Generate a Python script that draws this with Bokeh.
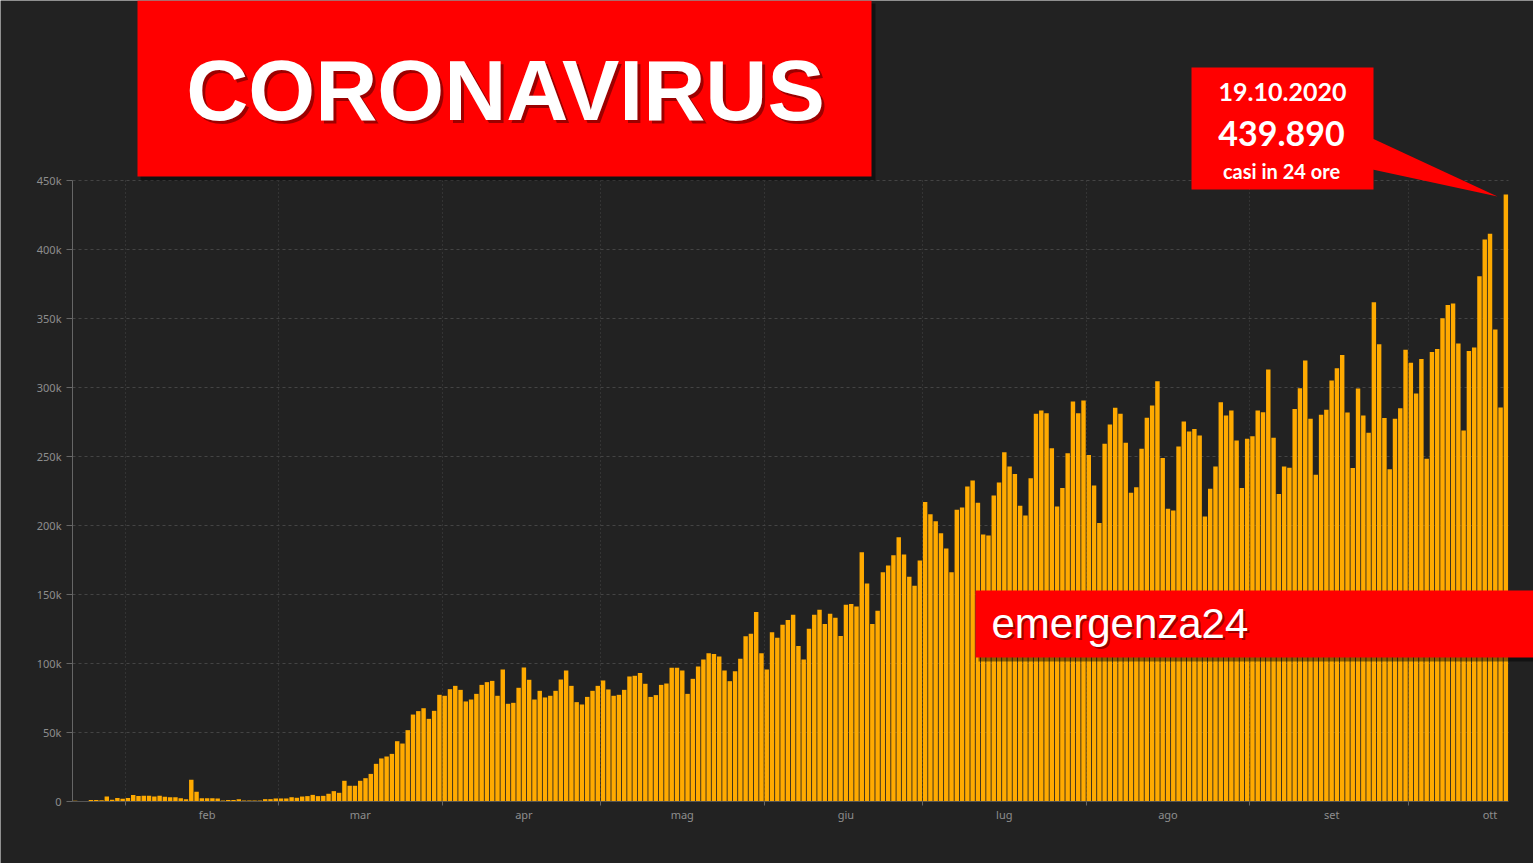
from bokeh.plotting import figure
from bokeh.models import FixedTicker, BoxAnnotation, Label, PolyAnnotation, Range1d
from bokeh.embed import file_html
from bokeh.resources import INLINE

# Daily new cases worldwide, 22 Jan 2020 -> 19 Oct 2020 (one value per day, thousands)
daily_cases_k = [
    0.5, 0.1, 0.3, 1.0, 1.1, 0.9, 3.6, 1.2, 2.6, 2.0,
    2.6, 4.8, 3.9, 4.1, 4.1, 3.6, 4.1, 3.4, 3.1, 3.1,
    2.4, 1.7, 15.7, 7.0, 2.4, 2.4, 2.4, 2.2, 0.7, 1.0,
    1.0, 1.7, 0.7, 0.7, 0.7, 0.7, 1.7, 1.7, 2.2, 2.2,
    2.2, 3.1, 2.7, 3.6, 3.9, 4.8, 3.9, 4.1, 5.6, 7.5,
    6.3, 15.0, 11.4, 11.4, 15.0, 16.9, 20.0, 27.3, 31.2, 32.6,
    34.5, 43.7, 42.0, 51.7, 63.0, 65.5, 67.6, 59.9, 65.7, 77.3,
    76.6, 81.4, 83.8, 80.9, 72.5, 73.9, 78.0, 84.5, 86.5, 87.4,
    76.6, 95.7, 70.8, 71.5, 82.4, 97.1, 88.2, 73.9, 80.2, 75.4,
    76.6, 80.2, 88.4, 94.9, 83.8, 72.0, 70.3, 75.8, 80.2, 83.8,
    87.7, 81.2, 76.6, 77.3, 80.9, 90.6, 91.1, 93.2, 85.3, 75.8,
    77.1, 84.5, 85.5, 96.9, 96.9, 94.9, 78.0, 88.9, 97.8, 102.9,
    107.5, 106.8, 105.1, 94.9, 87.2, 94.4, 103.5, 119.8, 121.5, 137.3,
    107.5, 95.7, 122.7, 118.6, 128.0, 131.6, 135.3, 112.6, 102.9, 125.1,
    135.3, 138.9, 128.7, 136.0, 133.1, 120.0, 142.5, 143.2, 141.3, 180.7,
    158.0, 128.7, 138.2, 166.2, 171.0, 178.5, 191.5, 179.0, 162.8, 156.3,
    174.6, 217.1, 208.2, 203.1, 194.4, 183.3, 166.2, 211.4, 213.0, 228.3,
    232.6, 216.4, 193.5, 192.8, 221.7, 231.2, 253.1, 242.8, 237.4, 214.3,
    207.2, 234.3, 280.9, 283.3, 281.4, 256.0, 213.8, 227.1, 252.4, 289.9,
    281.4, 290.6, 251.0, 229.0, 201.9, 259.2, 273.2, 285.3, 280.9, 259.9,
    223.7, 227.8, 255.6, 278.0, 287.0, 304.6, 249.0, 212.1, 210.9, 257.2,
    275.4, 268.1, 270.0, 265.2, 206.5, 226.6, 242.8, 289.4, 279.7, 283.3,
    261.6, 227.1, 262.8, 264.7, 283.3, 282.1, 313.0, 263.5, 222.9, 242.8,
    241.8, 284.5, 299.5, 319.6, 277.3, 236.7, 280.2, 283.8, 305.0, 314.0,
    323.5, 281.9, 241.6, 299.3, 279.7, 267.2, 361.8, 331.3, 277.9, 240.7,
    277.3, 284.9, 327.3, 317.9, 295.6, 320.6, 248.3, 325.8, 327.9, 350.2,
    359.7, 360.9, 331.9, 268.8, 326.4, 328.9, 380.7, 407.3, 411.5, 342.0,
    285.5, 439.89,
]
daily_cases = [round(v * 1000) for v in daily_cases_k]
day_index = list(range(len(daily_cases)))  # day 0 = 22 Jan 2020

# first day of each month, counted from 22 Jan
month_start = [10, 39, 70, 100, 131, 161, 192, 223, 253]
month_names = ["feb", "mar", "apr", "mag", "giu", "lug", "ago", "set", "ott"]

y_ticks = [0, 50000, 100000, 150000, 200000, 250000, 300000, 350000, 400000, 450000]
y_tick_labels = ["0", "50k", "100k", "150k", "200k", "250k", "300k", "350k", "400k", "450k"]

headline = "CORONAVIRUS"
peak_date = "19.10.2020"
peak_value_text = "439.890"
peak_caption = "casi in 24 ore"
brand = "emergenza24"

W, H = 1533, 863
# chart area inside the canvas (pixels)
A_LEFT, A_RIGHT, A_TOP, A_BOTTOM = 72, 1508, 180, 801
Y_MAX = 450000
BG = "#222222"
RED = "#FF0000"
BAR = "#FFAA00"

n_days = len(daily_cases)
px_per_day = (A_RIGHT - A_LEFT) / n_days
px_per_case = (A_BOTTOM - A_TOP) / Y_MAX

# The frame covers the whole canvas so the banners can sit anywhere; the axes are
# pinned at 0 with fixed_location and the ranges are padded to leave the margins.
x_range = Range1d(-A_LEFT / px_per_day, n_days + (W - A_RIGHT) / px_per_day)
y_range = Range1d(-(H - A_BOTTOM) / px_per_case, Y_MAX + A_TOP / px_per_case)

p = figure(width=W, height=H, output_backend="svg", toolbar_location=None,
           x_range=x_range, y_range=y_range, min_border=0)
p.title.visible = False
p.background_fill_color = BG
p.border_fill_color = BG
p.outline_line_color = None

p.vbar(x=[d + 0.5 for d in day_index], top=daily_cases, width=0.84,
       fill_color=BAR, line_color=None)

# axes
axis_font = "Noto Sans"
label_color = "#8e8e8e"

xa = p.xaxis[0]
xa.fixed_location = 0
xa.bounds = (0, n_days)
xa.ticker = FixedTicker(ticks=[m + 15.5 for m in month_start], minor_ticks=month_start)
xa.major_label_overrides = {m + 15.5: n for m, n in zip(month_start, month_names)}
xa.major_tick_line_color = None
xa.major_tick_out = 0
xa.major_tick_in = 0
xa.minor_tick_line_color = "#666666"
xa.minor_tick_out = 4
xa.minor_tick_in = 0
xa.axis_line_color = "#555555"
xa.major_label_standoff = 1
xa.major_label_text_font = axis_font
xa.major_label_text_font_size = "11px"
xa.major_label_text_color = label_color

ya = p.yaxis[0]
ya.fixed_location = 0
ya.bounds = (0, Y_MAX)
ya.ticker = FixedTicker(ticks=y_ticks)
ya.major_label_overrides = {t: s for t, s in zip(y_ticks, y_tick_labels)}
ya.major_tick_out = 6
ya.major_tick_in = 0
ya.major_tick_line_color = "#666666"
ya.minor_tick_line_color = None
ya.axis_line_color = "#666666"
ya.major_label_standoff = 5
ya.major_label_text_font = axis_font
ya.major_label_text_font_size = "11px"
ya.major_label_text_color = label_color

yg = p.ygrid[0]
yg.ticker = FixedTicker(ticks=[t for t in y_ticks if t > 0])
yg.cross_bounds = (0, n_days)
yg.grid_line_color = "#444444"
yg.grid_line_dash = "3 3"

xg = p.xgrid[0]
xg.ticker = FixedTicker(ticks=month_start)
xg.cross_bounds = (0, Y_MAX)
xg.grid_line_color = "#474747"
xg.grid_line_dash = "1 3"


def box(l, t, r, b, color, alpha=1.0):
    p.add_layout(BoxAnnotation(left=l, right=r, top=t, bottom=b,
                               left_units="canvas", right_units="canvas",
                               top_units="canvas", bottom_units="canvas",
                               fill_color=color, fill_alpha=alpha, line_color=None))


BASELINE_SHIFT = 0.38  # the text box sits this many ems below the given y


def text(x, baseline, s, size, color="white", font="Liberation Sans", style="normal",
         align="center", alpha=1.0):
    p.add_layout(Label(x=x, y=baseline - BASELINE_SHIFT * size,
                       x_units="canvas", y_units="canvas", text=s,
                       text_font=font, text_font_size=f"{size}px", text_font_style=style,
                       text_color=color, text_alpha=alpha, text_align=align,
                       text_baseline="alphabetic"))


# headline banner
box(140, 3, 875, 180, "#000000", 0.45)
box(137, 0, 871, 176, RED)
text(508, 125, headline, 86, color="#5a0000", style="bold", alpha=0.6)
text(505, 122, headline, 86, style="bold")

# peak callout
p.add_layout(PolyAnnotation(xs=[1372, 1372, 1497], ys=[138, 169, 196],
                            xs_units="canvas", ys_units="canvas",
                            fill_color=RED, fill_alpha=1.0, line_color=None))
box(1191, 67, 1373, 189, RED)
text(1282, 101, peak_date, 25, font="Lato", style="bold")
text(1281, 146, peak_value_text, 34, font="Lato", style="bold")
text(1281, 178, peak_caption, 20, font="Lato", style="bold")

# brand strip
box(978, 594, 1533, 661, "#000000", 0.45)
box(975, 590, 1533, 657, RED)
text(993, 641, brand, 42, color="#5a0000", alpha=0.6, align="left")
text(991, 639, brand, 42, align="left")

open("out.html", "w").write(file_html(p, INLINE))
